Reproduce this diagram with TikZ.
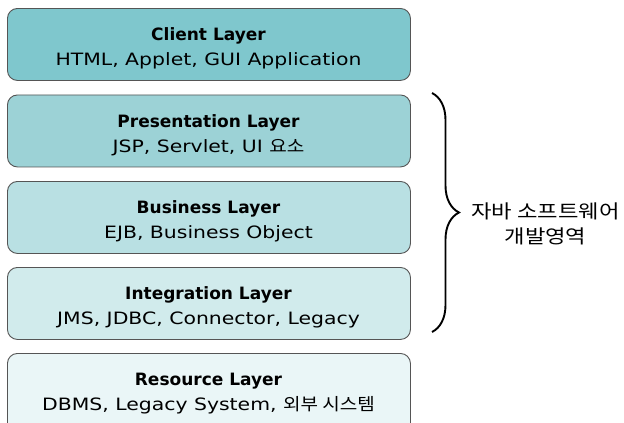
\documentclass[tikz,border=0pt]{standalone}
\usepackage{fontspec}
\setmainfont{DejaVu Sans}
\newfontfamily\widesans[FakeStretch=1.2]{DejaVu Sans}
\newfontfamily\kr[FakeStretch=1.12]{Noto Sans CJK KR}
\newfontfamily\krwide[FakeStretch=1.17]{Noto Sans CJK KR}
\usetikzlibrary{decorations.pathreplacing}
\definecolor{clientc}{HTML}{7FC7CD}
\definecolor{presc}{HTML}{9CD2D6}
\definecolor{busc}{HTML}{B9E0E3}
\definecolor{integc}{HTML}{D1EBEC}
\definecolor{resc}{HTML}{EAF6F7}
\definecolor{edgec}{HTML}{555555}
\newcommand\layertext[2]{\textbf{#1}\\{\widesans #2}}
\tikzset{
  layer/.style={draw=edgec, line width=0.9pt, rounded corners=10pt,
    minimum width=403pt, minimum height=72pt, anchor=north west, inner sep=0pt},
  caption/.style={align=center, inner sep=0pt,
    font=\fontsize{17pt}{25pt}\selectfont},
}
\begin{document}
\begin{tikzpicture}[x=1pt,y=1pt]
\useasboundingbox (0,0) rectangle (624,-423);
\clip (0,0) rectangle (624,-423);
\fill[white] (0,0) rectangle (624,-423);
% layer boxes
\node[layer, fill=clientc] (client) at (7,-8) {};
\node[layer, fill=presc] (pres) at (7,-94.5) {};
\node[layer, fill=busc] (bus) at (7,-181) {};
\node[layer, fill=integc] (integ) at (7,-267) {};
\node[layer, fill=resc, minimum height=90pt] (res) at (7,-353) {};
% layer captions
\node[caption] (clientt) at (208.5,-48.5)
  {\layertext{Client Layer}{HTML, Applet, GUI Application}};
\node[caption] (prest) at (208.5,-135)
  {\layertext{Presentation Layer}{JSP, Servlet, UI {\kr 요소}}};
\node[caption] (bust) at (208.5,-221.5)
  {\layertext{Business Layer}{EJB, Business Object}};
\node[caption] (integt) at (208.5,-307.5)
  {\layertext{Integration Layer}{JMS, JDBC, Connector, Legacy}};
\node[caption] (rest) at (208.5,-393.5)
  {\layertext{Resource Layer}{DBMS, Legacy System, {\kr 외부 시스템}}};
% brace over the Java tiers
\coordinate (btop) at (432,-93);
\coordinate (bbot) at (432,-332);
\draw[line width=1.9pt, decorate, decoration={brace, amplitude=27pt, aspect=0.5}]
  (btop) -- (bbot);
\node[align=center, inner sep=0pt, font=\krwide\fontsize{19pt}{25pt}\selectfont] (java) at (545.5,-224)
  {자바 소프트웨어\\개발영역};
\end{tikzpicture}
\end{document}
